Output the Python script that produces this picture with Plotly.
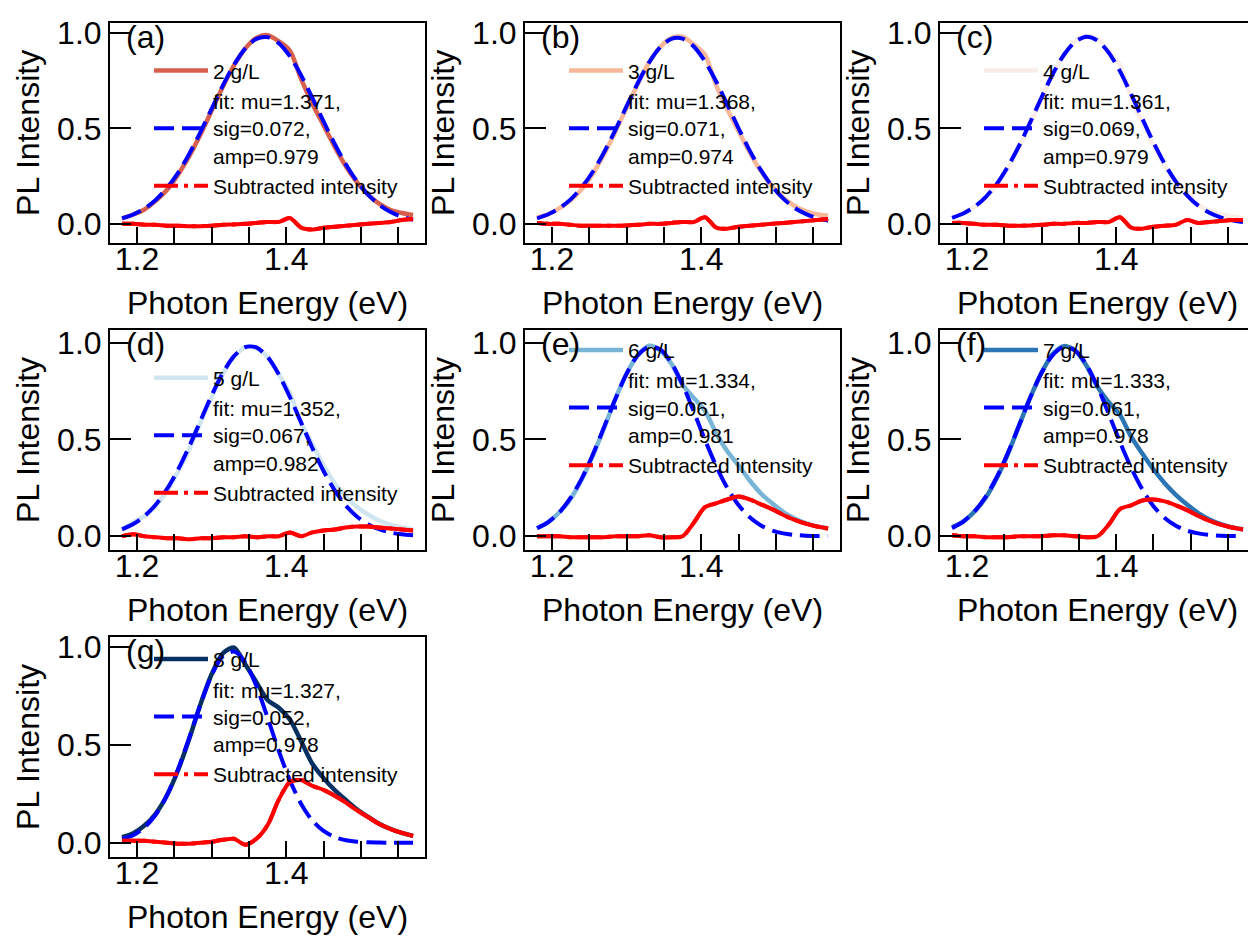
import plotly.graph_objects as go

# ---------------- data ----------------
energy = [1.18, 1.195, 1.21, 1.225, 1.24, 1.255, 1.27, 1.285, 1.30, 1.315, 1.33, 1.345, 1.36, 1.375,
          1.39, 1.405, 1.42, 1.435, 1.45, 1.465, 1.48, 1.495, 1.51, 1.525, 1.54, 1.555, 1.57]

concentrations = ["2 g/L", "3 g/L", "4 g/L", "5 g/L", "6 g/L", "7 g/L", "8 g/L"]
panel_labels = ["(a)", "(b)", "(c)", "(d)", "(e)", "(f)", "(g)"]
fit_mu = [1.371, 1.368, 1.361, 1.352, 1.334, 1.333, 1.327]
fit_sig = [0.072, 0.071, 0.069, 0.067, 0.061, 0.061, 0.052]
fit_amp = [0.979, 0.974, 0.979, 0.982, 0.981, 0.978, 0.978]

pl_2 = [0.029, 0.049, 0.075, 0.12, 0.177, 0.257, 0.354, 0.468, 0.592, 0.718, 0.829, 0.917, 0.973, 0.987,
        0.955, 0.906, 0.757, 0.629, 0.516, 0.403, 0.301, 0.217, 0.152, 0.104, 0.072, 0.057, 0.046]
pl_3 = [0.034, 0.050, 0.082, 0.123, 0.182, 0.264, 0.366, 0.482, 0.608, 0.732, 0.844, 0.924, 0.973, 0.979,
        0.938, 0.885, 0.725, 0.599, 0.485, 0.373, 0.276, 0.197, 0.137, 0.094, 0.067, 0.050, 0.042]
pl_4 = [0.036, 0.059, 0.089, 0.135, 0.205, 0.291, 0.400, 0.526, 0.657, 0.784, 0.885, 0.958, 0.984, 0.969,
        0.906, 0.834, 0.659, 0.526, 0.411, 0.304, 0.216, 0.169, 0.100, 0.068, 0.049, 0.039, 0.030]
pl_5 = [0.036, 0.073, 0.104, 0.158, 0.233, 0.334, 0.449, 0.586, 0.717, 0.838, 0.925, 0.977, 0.970, 0.926,
        0.836, 0.738, 0.587, 0.476, 0.367, 0.272, 0.203, 0.151, 0.111, 0.080, 0.059, 0.045, 0.035]
pl_6 = [0.041, 0.073, 0.124, 0.194, 0.294, 0.419, 0.561, 0.71, 0.84, 0.935, 0.984, 0.96, 0.891, 0.783,
        0.714, 0.648, 0.533, 0.439, 0.366, 0.288, 0.221, 0.17, 0.125, 0.092, 0.068, 0.051, 0.041]
pl_7 = [0.047, 0.076, 0.128, 0.199, 0.301, 0.427, 0.574, 0.718, 0.845, 0.941, 0.982, 0.959, 0.882, 0.772,
        0.692, 0.627, 0.514, 0.427, 0.345, 0.274, 0.214, 0.164, 0.12, 0.087, 0.063, 0.046, 0.036]
pl_8 = [0.028, 0.049, 0.088, 0.148, 0.241, 0.37, 0.531, 0.706, 0.86, 0.967, 0.996, 0.911, 0.82, 0.729,
        0.689, 0.628, 0.518, 0.403, 0.33, 0.269, 0.218, 0.17, 0.132, 0.096, 0.07, 0.05, 0.035]

fit_2 = [0.029, 0.049, 0.08, 0.125, 0.187, 0.267, 0.366, 0.48, 0.602, 0.723, 0.832, 0.917, 0.968, 0.977,
         0.945, 0.876, 0.777, 0.659, 0.536, 0.418, 0.311, 0.222, 0.152, 0.099, 0.062, 0.037, 0.021]
fit_3 = [0.029, 0.050, 0.082, 0.128, 0.192, 0.274, 0.376, 0.492, 0.616, 0.737, 0.844, 0.924, 0.968, 0.969,
         0.928, 0.850, 0.745, 0.624, 0.500, 0.383, 0.281, 0.197, 0.132, 0.084, 0.052, 0.030, 0.017]
fit_4 = [0.031, 0.054, 0.089, 0.140, 0.210, 0.301, 0.410, 0.534, 0.662, 0.784, 0.885, 0.953, 0.979, 0.959,
         0.896, 0.799, 0.679, 0.551, 0.426, 0.314, 0.221, 0.149, 0.095, 0.058, 0.034, 0.019, 0.010]
fit_5 = [0.036, 0.063, 0.104, 0.163, 0.243, 0.344, 0.464, 0.596, 0.727, 0.843, 0.930, 0.977, 0.975, 0.926,
         0.836, 0.718, 0.587, 0.456, 0.337, 0.237, 0.158, 0.101, 0.061, 0.035, 0.019, 0.010, 0.005]
fit_6 = [0.041, 0.073, 0.124, 0.199, 0.299, 0.424, 0.566, 0.71, 0.84, 0.935, 0.979, 0.965, 0.896, 0.783,
         0.644, 0.498, 0.363, 0.249, 0.161, 0.098, 0.056, 0.03, 0.015, 0.007, 0.003, 0.001, 0.001]
fit_7 = [0.042, 0.076, 0.128, 0.204, 0.306, 0.432, 0.574, 0.718, 0.845, 0.936, 0.977, 0.959, 0.887, 0.772,
         0.632, 0.487, 0.354, 0.242, 0.155, 0.094, 0.054, 0.029, 0.015, 0.007, 0.003, 0.001, 0.001]
fit_8 = [0.018, 0.039, 0.078, 0.143, 0.241, 0.375, 0.536, 0.706, 0.855, 0.952, 0.976, 0.921, 0.8, 0.639,
         0.469, 0.318, 0.198, 0.113, 0.06, 0.029, 0.013, 0.005, 0.002, 0.001, 0.0, 0.0, 0.0]

sub_2 = [0.0, 0.0, -0.005, -0.005, -0.01, -0.01, -0.012, -0.012, -0.01, -0.005, -0.003, 0.0, 0.005, 0.01,
         0.01, 0.03, -0.02, -0.03, -0.02, -0.015, -0.01, -0.005, 0.0, 0.005, 0.01, 0.02, 0.025]
sub_3 = [0.005, 0.0, 0.0, -0.005, -0.01, -0.01, -0.01, -0.01, -0.008, -0.005, 0.0, 0.0, 0.005, 0.01,
         0.01, 0.035, -0.02, -0.025, -0.015, -0.01, -0.005, 0.0, 0.005, 0.01, 0.015, 0.02, 0.025]
sub_4 = [0.005, 0.005, 0.0, -0.005, -0.005, -0.01, -0.01, -0.008, -0.005, 0.0, 0.0, 0.005, 0.005, 0.01,
         0.01, 0.035, -0.02, -0.025, -0.015, -0.01, -0.005, 0.02, 0.005, 0.01, 0.015, 0.02, 0.02]
sub_5 = [0.0, 0.01, 0.0, -0.005, -0.01, -0.01, -0.015, -0.01, -0.01, -0.005, -0.005, 0.0, -0.005, 0.0,
         0.0, 0.02, 0.0, 0.02, 0.03, 0.035, 0.045, 0.05, 0.05, 0.045, 0.04, 0.035, 0.03]
sub_6 = [0.0, 0.0, 0.0, -0.005, -0.005, -0.005, -0.005, 0.0, 0.0, 0.0, 0.005, -0.005, -0.005, 0.0,
         0.07, 0.15, 0.17, 0.19, 0.205, 0.19, 0.165, 0.14, 0.11, 0.085, 0.065, 0.05, 0.04]
sub_7 = [0.005, 0.0, 0.0, -0.005, -0.005, -0.005, 0.0, 0.0, 0.0, 0.005, 0.005, 0.0, -0.005, 0.0,
         0.06, 0.14, 0.16, 0.185, 0.19, 0.18, 0.16, 0.135, 0.105, 0.08, 0.06, 0.045, 0.035]
sub_8 = [0.01, 0.01, 0.01, 0.005, 0.0, -0.005, -0.005, 0.0, 0.005, 0.015, 0.02, -0.01, 0.02, 0.09,
         0.22, 0.31, 0.32, 0.29, 0.27, 0.24, 0.205, 0.165, 0.13, 0.095, 0.07, 0.05, 0.035]

pl_data = [pl_2, pl_3, pl_4, pl_5, pl_6, pl_7, pl_8]
fit_data = [fit_2, fit_3, fit_4, fit_5, fit_6, fit_7, fit_8]
sub_data = [sub_2, sub_3, sub_4, sub_5, sub_6, sub_7, sub_8]

x_tick_vals = [1.2, 1.25, 1.3, 1.35, 1.4, 1.45, 1.5, 1.55]
x_tick_text = ["1.2", "", "", "", "1.4", "", "", ""]
y_tick_vals = [0.0, 0.5, 1.0]
y_tick_text = ["0.0", "0.5", "1.0"]

# ---------------- styling / layout ----------------
line_colors = ["#d6604d", "#f7b799", "#f9eee7", "#d1e5f0", "#78b4d5", "#2c75b4", "#053061"]
FONT = "Liberation Sans, Arial, Helvetica, sans-serif"
W, H = 1248, 942

col_left = [110, 525, 940]
col_right = [425, 840, 1248]
row_top = [15, 326, 637]
row_bot = [238, 549, 860]
x_ranges = [[1.1638, 1.586], [1.1638, 1.586], [1.1638, 1.5767]]
y_ranges = [[-0.10, 1.052], [-0.071, 1.066], [-0.073, 1.051]]
legend_top_off = [28, 28, 28, 28, 0, 0, 2]

fig = go.Figure()
annotations = []
layout_axes = {}
legends = {}

for i in range(7):
    r, c = divmod(i, 3)
    n = i + 1
    xa = "x" if n == 1 else f"x{n}"
    ya = "y" if n == 1 else f"y{n}"
    lg = "legend" if n == 1 else f"legend{n}"

    fig.add_trace(go.Scatter(x=energy, y=pl_data[i], mode="lines", name=concentrations[i],
                             line=dict(color=line_colors[i], width=4.5, shape="spline", smoothing=0.8),
                             xaxis=xa, yaxis=ya, legend=lg))
    fit_name = f"fit: mu={fit_mu[i]:.3f},<br>sig={fit_sig[i]:.3f},<br>amp={fit_amp[i]:.3f}"
    fig.add_trace(go.Scatter(x=energy, y=fit_data[i], mode="lines", name=fit_name,
                             line=dict(color="#0000ff", width=4, dash="20px,8px", shape="spline", smoothing=0.8),
                             xaxis=xa, yaxis=ya, legend=lg))
    # subtracted intensity: dash-dot style (as in the legend), with a solid overlay of the same
    # data to mimic the dense noisy trace of the original
    fig.add_trace(go.Scatter(x=energy, y=sub_data[i], mode="lines", name="Subtracted intensity",
                             line=dict(color="#ff0000", width=4, dash="24px,6px,4px,6px", shape="spline", smoothing=0.8),
                             xaxis=xa, yaxis=ya, legend=lg))
    fig.add_trace(go.Scatter(x=energy, y=sub_data[i], mode="lines", name="Subtracted intensity",
                             line=dict(color="#ff0000", width=4, shape="spline", smoothing=0.8),
                             xaxis=xa, yaxis=ya, legend=lg, showlegend=False, hoverinfo="skip"))

    xd = [col_left[c] / W, col_right[c] / W]
    yd = [1 - row_bot[r] / H, 1 - row_top[r] / H]
    tick_font = dict(family=FONT, size=32, color="black")
    layout_axes["xaxis" if n == 1 else f"xaxis{n}"] = dict(
        domain=xd, range=x_ranges[c], anchor=ya, mirror=True,
        showline=True, linewidth=2, linecolor="black",
        ticks="inside", ticklen=16, tickwidth=2, tickcolor="#000000",
        showgrid=False, zeroline=False, showticklabels=True, tickfont=tick_font,
        tickmode="array", tickvals=x_tick_vals, ticktext=x_tick_text, ticklabelstandoff=-13)
    layout_axes["yaxis" if n == 1 else f"yaxis{n}"] = dict(
        domain=yd, range=y_ranges[r], anchor=xa, mirror=(c != 2),
        showline=True, linewidth=2, linecolor="black",
        ticks="inside", ticklen=21, tickwidth=2, tickcolor="#000000",
        showgrid=False, zeroline=False, showticklabels=True, tickfont=tick_font,
        tickmode="array", tickvals=y_tick_vals, ticktext=y_tick_text)

    legends[lg] = dict(x=(col_left[c] + 39) / W, y=1 - (row_top[r] + legend_top_off[i]) / H,
                       xanchor="left", yanchor="top", bgcolor="rgba(0,0,0,0)", borderwidth=0,
                       font=dict(family=FONT, size=21, color="black"), tracegroupgap=0,
                       itemwidth=54)

    # panel label
    annotations.append(dict(text=panel_labels[i], xref="paper", yref="paper",
                            x=(col_left[c] + 14) / W, y=1 - (row_top[r] + 14) / H,
                            xanchor="left", yanchor="middle", showarrow=False,
                            font=dict(family=FONT, size=32, color="black")))
    # axis titles
    annotations.append(dict(text="Photon Energy (eV)", xref="paper", yref="paper",
                            x=(col_left[c] + 157.5) / W, y=1 - (row_bot[r] + 61) / H,
                            xanchor="center", yanchor="middle", showarrow=False,
                            font=dict(family=FONT, size=32, color="black")))
    annotations.append(dict(text="PL Intensity", xref="paper", yref="paper", textangle=-90,
                            x=(col_left[c] - 82) / W, y=1 - (row_top[r] + row_bot[r]) / 2 / H,
                            xanchor="center", yanchor="middle", showarrow=False,
                            font=dict(family=FONT, size=32, color="black")))

fig.update_layout(width=W, height=H, margin=dict(l=0, r=0, t=0, b=0),
                  paper_bgcolor="white", plot_bgcolor="rgba(0,0,0,0)", showlegend=True,
                  font=dict(family=FONT, color="black"), annotations=annotations,
                  **layout_axes, **legends)

fig.write_html("out.html")
